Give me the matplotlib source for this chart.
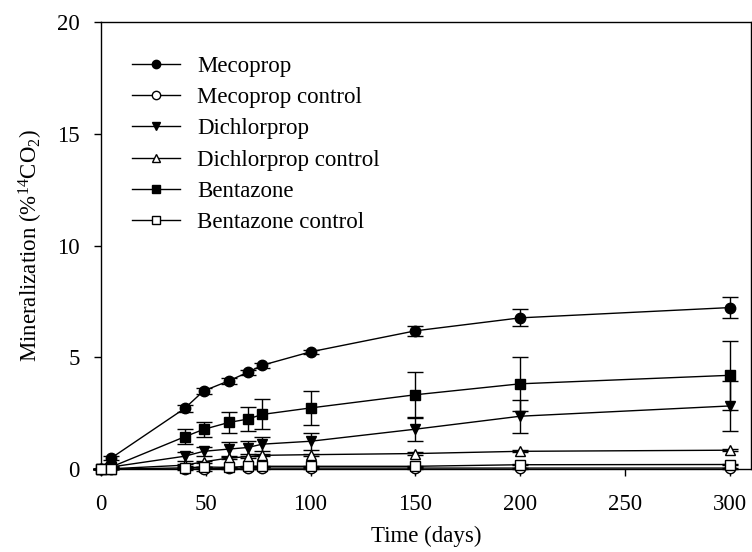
import matplotlib
matplotlib.use("Agg")
import matplotlib.pyplot as plt
import numpy as np

plt.rcParams["font.family"] = ["Liberation Serif", "DejaVu Serif"]
plt.rcParams["mathtext.fontset"] = "custom"
plt.rcParams["mathtext.rm"] = "Liberation Serif"
plt.rcParams["mathtext.it"] = "Liberation Serif:italic"
plt.rcParams["mathtext.default"] = "regular"

days = [0, 5, 40, 49, 61, 70, 77, 100, 150, 200, 300]

mecoprop = [0.0, 0.5, 2.72, 3.5, 3.95, 4.33, 4.65, 5.25, 6.19, 6.77, 7.23]
mecoprop_err = [0.0, 0.08, 0.15, 0.15, 0.12, 0.12, 0.12, 0.1, 0.22, 0.38, 0.48]
mecoprop_ctrl = [0.0, 0.0, 0.0, 0.02, 0.04, 0.05, 0.05, 0.05, 0.05, 0.05, 0.05]
mecoprop_ctrl_err = [0.0, 0.0, 0.05, 0.08, 0.03, 0.03, 0.03, 0.02, 0.02, 0.02, 0.02]

dichlorprop = [0.0, 0.1, 0.58, 0.8, 0.9, 0.97, 1.12, 1.25, 1.79, 2.37, 2.83]
dichlorprop_err = [0.0, 0.02, 0.2, 0.2, 0.31, 0.3, 0.3, 0.38, 0.52, 0.73, 1.13]
dichlorprop_ctrl = [0.0, 0.02, 0.18, 0.33, 0.5, 0.56, 0.62, 0.65, 0.7, 0.8, 0.85]
dichlorprop_ctrl_err = [0.0, 0.0, 0.05, 0.05, 0.05, 0.05, 0.05, 0.05, 0.05, 0.05, 0.05]

bentazone = [0.0, 0.1, 1.45, 1.78, 2.09, 2.24, 2.45, 2.74, 3.33, 3.82, 4.2]
bentazone_err = [0.0, 0.03, 0.33, 0.33, 0.48, 0.52, 0.67, 0.75, 1.0, 1.22, 1.53]
bentazone_ctrl = [0.0, 0.0, 0.06, 0.1, 0.08, 0.13, 0.13, 0.13, 0.13, 0.2, 0.21]
bentazone_ctrl_err = [0.0, 0.0, 0.02, 0.02, 0.02, 0.02, 0.02, 0.02, 0.02, 0.03, 0.03]

series = [
    ("Mecoprop", mecoprop, mecoprop_err, "o", "black"),
    ("Mecoprop control", mecoprop_ctrl, mecoprop_ctrl_err, "o", "white"),
    ("Dichlorprop", dichlorprop, dichlorprop_err, "v", "black"),
    ("Dichlorprop control", dichlorprop_ctrl, dichlorprop_ctrl_err, "^", "white"),
    ("Bentazone", bentazone, bentazone_err, "s", "black"),
    ("Bentazone control", bentazone_ctrl, bentazone_ctrl_err, "s", "white"),
]

fs = 16.5

fig = plt.figure(figsize=(7.52, 5.52), dpi=100)
ax = fig.add_axes([0.134, 0.150, 0.8647, 0.810])

handles = []
for name, vals, errs, mk, fc in series:
    eb = ax.errorbar(days, vals, yerr=errs, fmt="none", ecolor="black",
                     elinewidth=1.0, capsize=6, capthick=1.0, zorder=2)
    for art in eb.lines[1] + eb.lines[2]:
        art.set_clip_on(False)
    h, = ax.plot(days, vals, color="black", lw=1.0, marker=mk, ms=7.5,
                 mfc=fc, mec="black", mew=1.0, label=name, zorder=3,
                 clip_on=False)
    handles.append(h)

ax.set_xlim(0, 310)
ax.set_ylim(0, 20)
ax.set_xticks(np.arange(0, 301, 50))
ax.set_yticks(np.arange(0, 21, 5))
ax.tick_params(direction="out", length=5, width=1, labelsize=fs,
               top=False, right=False)
ax.tick_params(axis="x", pad=13)
ax.tick_params(axis="y", pad=10)
for s in ax.spines.values():
    s.set_linewidth(1.0)

ax.set_xlabel("Time (days)", fontsize=fs, labelpad=8)
ax.set_ylabel("Mineralization (%$^{14}$CO$_2$)", fontsize=fs, labelpad=9)

ax.legend(handles=handles, loc="upper left", frameon=False, fontsize=fs,
          handlelength=2.1, handletextpad=0.75, labelspacing=0.45,
          borderpad=0, borderaxespad=0,
          bbox_to_anchor=(0.048, 0.925), markerscale=0.8)

fig.savefig("out.png", dpi=100)
